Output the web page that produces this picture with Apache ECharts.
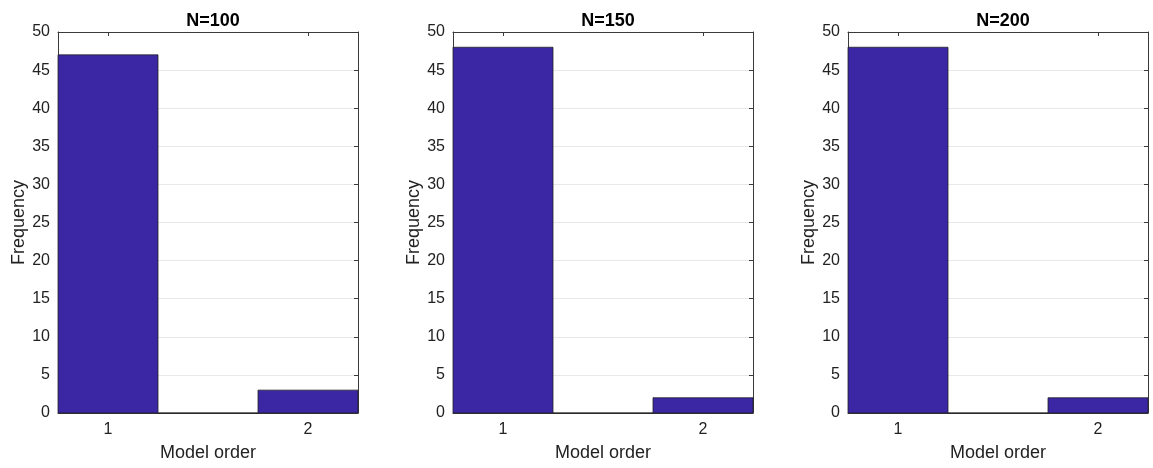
<!DOCTYPE html>
<html>
<head>
<meta charset="utf-8">
<script src="https://cdn.jsdelivr.net/npm/echarts@6/dist/echarts.min.js"></script>
<style>
  html, body { margin: 0; padding: 0; background: #fff; }
  #main { width: 1153px; height: 468px; }
</style>
</head>
<body>
<div id="main"></div>
<script>
// histogram bins (model order), edges and counts per sample size
var titles = ['N=100', 'N=150', 'N=200'];
var binStart = [0.75, 1.25, 1.75];
var binEnd = [1.25, 1.75, 2.25];
var counts100 = [47, 0, 3];
var counts150 = [48, 0, 2];
var counts200 = [48, 0, 2];
var allCounts = [counts100, counts150, counts200];
var xTicks = [1, 2];

var myChart = echarts.init(document.getElementById('main'));

var font = 'Liberation Sans, Arial, Helvetica, sans-serif';
var frameColor = '#3a3a3a';
var barColor = '#3b27a4';
var lefts = [58, 453, 848];

var grids = [], xAxes = [], yAxes = [], series = [], titleList = [];

lefts.forEach(function (left, i) {
  grids.push({ left: left, width: 300, top: 32, bottom: 55 });
  titleList.push({
    text: titles[i],
    left: left + 150,
    top: 7,
    textAlign: 'center',
    textStyle: { fontFamily: font, fontWeight: 'bold', fontSize: 18, color: '#000' }
  });
  // bottom x axis
  xAxes.push({
    type: 'value', gridIndex: i, position: 'bottom',
    min: 0.75, max: 2.25, interval: 0.25,
    name: 'Model order', nameLocation: 'middle', nameGap: 31,
    nameTextStyle: { fontFamily: font, fontSize: 18, color: '#222' },
    axisLine: { show: true, onZero: false, lineStyle: { color: frameColor, width: 1 } },
    axisTick: { show: true, inside: true, length: 4, customValues: xTicks, lineStyle: { color: frameColor } },
    axisLabel: { customValues: xTicks, margin: 9, fontFamily: font, fontSize: 16, color: '#222' },
    splitLine: { show: false }
  });
  // top x axis (frame)
  xAxes.push({
    type: 'value', gridIndex: i, position: 'top',
    min: 0.75, max: 2.25, interval: 0.25,
    axisLine: { show: true, onZero: false, lineStyle: { color: frameColor, width: 1 } },
    axisTick: { show: true, inside: true, length: 4, customValues: xTicks, lineStyle: { color: frameColor } },
    axisLabel: { show: false },
    splitLine: { show: false }
  });
  // left y axis
  yAxes.push({
    type: 'value', gridIndex: i, position: 'left',
    min: 0, max: 50, interval: 5,
    name: 'Frequency', nameLocation: 'middle', nameGap: 29,
    nameTextStyle: { fontFamily: font, fontSize: 18, color: '#222' },
    axisLine: { show: true, onZero: false, lineStyle: { color: frameColor, width: 1 } },
    axisTick: { show: true, inside: true, length: 4, lineStyle: { color: frameColor } },
    axisLabel: { margin: 8, fontFamily: font, fontSize: 16, color: '#222' },
    splitLine: { show: true, lineStyle: { color: '#e8e8e8', width: 1 } }
  });
  // right y axis (frame)
  yAxes.push({
    type: 'value', gridIndex: i, position: 'right',
    min: 0, max: 50, interval: 5,
    axisLine: { show: true, onZero: false, lineStyle: { color: frameColor, width: 1 } },
    axisTick: { show: true, inside: true, length: 4, lineStyle: { color: frameColor } },
    axisLabel: { show: false },
    splitLine: { show: false }
  });

  var data = allCounts[i].map(function (c, k) { return [binStart[k], binEnd[k], c]; });
  series.push({
    type: 'custom',
    xAxisIndex: i * 2,
    yAxisIndex: i * 2,
    z: 1,
    renderItem: function (params, api) {
      var p0 = api.coord([api.value(0), api.value(2)]);
      var p1 = api.coord([api.value(1), 0]);
      return {
        type: 'rect',
        shape: { x: p0[0], y: p0[1], width: p1[0] - p0[0], height: p1[1] - p0[1] },
        style: { fill: barColor, stroke: '#222', lineWidth: 0.8 }
      };
    },
    encode: { x: [0, 1], y: 2 },
    data: data
  });
});

var option = {
  animation: false,
  backgroundColor: '#fff',
  title: titleList,
  grid: grids,
  xAxis: xAxes,
  yAxis: yAxes,
  series: series
};

myChart.setOption(option);
</script>
</body>
</html>
